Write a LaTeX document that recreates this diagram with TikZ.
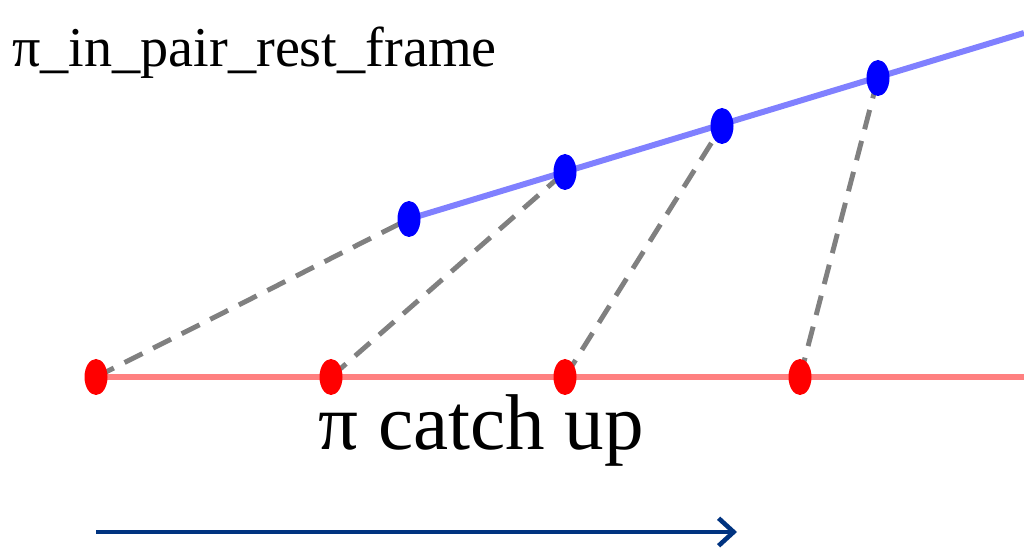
\documentclass[tikz,border=0pt]{standalone}
\usepackage{fontspec}
\setmainfont{Liberation Serif}
\usetikzlibrary{shapes.geometric,arrows.meta}
\definecolor{pairred}{RGB}{255,128,128}
\definecolor{pairblue}{RGB}{128,128,255}
\definecolor{arrowblue}{RGB}{0,51,128}
\begin{document}
\begin{tikzpicture}[
        reddot/.style={ellipse, fill=red, inner sep=0pt, minimum width=0.46cm, minimum height=0.72cm},
        bluedot/.style={ellipse, fill=blue, inner sep=0pt, minimum width=0.46cm, minimum height=0.72cm},
        link/.style={gray, line width=2.8pt, dash pattern=on 0.4cm off 0.24cm}]
        \useasboundingbox (0,0) rectangle (20.48,11.08);
        \foreach \i/\x in {1/1.92, 2/6.62, 3/11.30, 4/16.00}{
            \coordinate (r\i) at (\x,3.54);
        }
        \foreach \i/\x/\y in {1/8.18/6.70, 2/11.30/7.64, 3/14.44/8.56, 4/17.56/9.52}{
            \coordinate (b\i) at (\x,\y);
        }
        \coordinate (redend) at (20.48,3.54);
        \coordinate (blueend) at (20.48,10.42);
        \draw[pairred, line width=3.4pt] (r1)--(redend);
        \draw[pairblue, line width=3.4pt] (b1)--(blueend);
        \foreach \i in {1,...,4}{
            \draw[link] (r\i)--(b\i);
        }
        \foreach \i in {1,...,4}{
            \node[reddot] (rdot\i) at (r\i) {};
            \node[bluedot] (bdot\i) at (b\i) {};
        }
        \node[anchor=base west, inner sep=0pt, font=\fontsize{32}{38}\selectfont] (frame) at (0.24,9.74) {π\_in\_pair\_rest\_frame};
        \node[anchor=base west, inner sep=0pt, font=\fontsize{45}{54}\selectfont] (catch) at (6.36,2.08) {π catch up};
        \coordinate (arrstart) at (1.92,0.44);
        \coordinate (arrend) at (14.74,0.44);
        \draw[arrowblue, line width=2.6pt, -{Straight Barb[length=3mm, width=5.5mm]}] (arrstart)--(arrend);
    \end{tikzpicture}
\end{document}
